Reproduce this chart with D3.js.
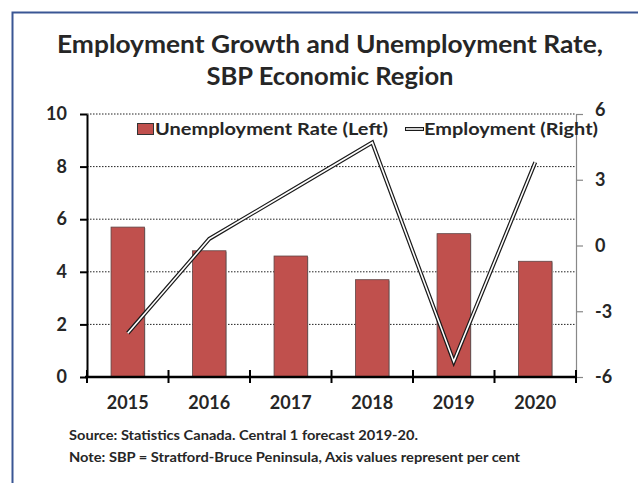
<!DOCTYPE html>
<html>
<head>
<meta charset="utf-8">
<script src="https://cdn.jsdelivr.net/npm/d3@7"></script>
<style>
  body { margin: 0; background: #fff; }
  text { font-family: Lato, "Open Sans", sans-serif; font-weight: bold; fill: #262626; }
</style>
</head>
<body>
<div id="chart"></div>
<script>
// chart data
var years = ["2015", "2016", "2017", "2018", "2019", "2020"];
var unemployment = [5.7, 4.8, 4.6, 3.7, 5.45, 4.4];   // left axis, per cent
var employment = [-4.0, 0.3, 2.5, 4.7, -5.3, 3.8];    // right axis, per cent
var leftTicks = [0, 2, 4, 6, 8, 10];
var rightTicks = [-6, -3, 0, 3, 6];
var titleLines = ["Employment Growth and Unemployment Rate,", "SBP Economic Region"];
var notes = ["Source:  Statistics Canada. Central 1 forecast 2019-20.",
             "Note: SBP = Stratford-Bruce Peninsula, Axis values represent per cent"];

var W = 638, H = 483;
var plot = { left: 87, right: 576, top: 114, bottom: 377 };

var svg = d3.select("#chart").append("svg")
    .attr("width", W)
    .attr("height", H);

// outer frame (runs off right and bottom edge like the original)
svg.append("rect")
    .attr("x", 12.5).attr("y", 12.5)
    .attr("width", 700).attr("height", 600)
    .attr("fill", "none")
    .attr("stroke", "#3a5694")
    .attr("stroke-width", 2);

// title - widths stretched a bit to match the original's font
var titleWidths = [546, 247];
svg.selectAll(".title")
    .data(titleLines)
    .enter().append("text")
      .attr("class", "title")
      .attr("x", 330)
      .attr("y", function(d, i) { return 53 + i * 32; })
      .attr("text-anchor", "middle")
      .attr("textLength", function(d, i) { return titleWidths[i]; })
      .attr("lengthAdjust", "spacingAndGlyphs")
      .style("font-size", "25px")
      .text(function(d) { return d; });

var x = d3.scaleBand().domain(years).range([plot.left, plot.right]).padding(0);
var yL = d3.scaleLinear().domain([0, 10]).range([plot.bottom, plot.top]);
var yR = d3.scaleLinear().domain([-6, 6]).range([plot.bottom, plot.top]);

// dotted gridlines
svg.append("g")
    .selectAll("line")
    .data(leftTicks.filter(function(d) { return d > 0; }))
    .enter().append("line")
      .attr("x1", plot.left).attr("x2", plot.right)
      .attr("y1", function(d) { return yL(d); })
      .attr("y2", function(d) { return yL(d); })
      .attr("stroke", "#222")
      .attr("stroke-width", 1)
      .attr("stroke-dasharray", "1.5,1.5");

// bars
var barW = x.bandwidth() * 0.41;
var bars = svg.append("g");
bars.selectAll(".shadow")
    .data(unemployment)
    .enter().append("rect")
      .attr("x", function(d, i) { return x(years[i]) + x.bandwidth() / 2 - barW / 2 + 1; })
      .attr("y", function(d) { return yL(d) + 1; })
      .attr("width", barW)
      .attr("height", function(d) { return yL(0) - yL(d) - 1; })
      .attr("fill", "#bdbdbd");
bars.selectAll(".bar")
    .data(unemployment)
    .enter().append("rect")
      .attr("x", function(d, i) { return x(years[i]) + x.bandwidth() / 2 - barW / 2; })
      .attr("y", function(d) { return yL(d); })
      .attr("width", barW)
      .attr("height", function(d) { return yL(0) - yL(d); })
      .attr("fill", "#c0504d")
      .attr("stroke", "#5e4444")
      .attr("stroke-width", 0.8);

// left axis
var leftAxis = svg.append("g")
    .attr("transform", "translate(" + plot.left + ",0)")
    .call(d3.axisLeft(yL).tickValues(leftTicks).tickSize(7).tickPadding(13).tickSizeOuter(0));
leftAxis.select(".domain").attr("stroke", "#000").attr("stroke-width", 2);
leftAxis.selectAll(".tick line").attr("stroke", "#000").attr("stroke-width", 2);
leftAxis.selectAll("text").style("font-size", "18px").style("font-family", null);

// right axis
var rightAxis = svg.append("g")
    .attr("transform", "translate(" + plot.right + ",0)")
    .call(d3.axisRight(yR).tickValues(rightTicks).tickSize(7).tickPadding(12).tickSizeOuter(0)
      .tickFormat(function(d) { return String(d); }));
rightAxis.select(".domain").attr("stroke", "#888").attr("stroke-width", 1.2);
rightAxis.selectAll(".tick line").attr("stroke", "#888").attr("stroke-width", 1.2);
rightAxis.selectAll("text").style("font-size", "18px").style("font-family", null);
rightAxis.selectAll(".tick").filter(function(d) { return d === 6; })
    .select("text").attr("dy", "0.1em");

// bottom axis: line plus ticks crossing it at category boundaries
svg.append("line")
    .attr("x1", plot.left - 2).attr("x2", plot.right + 1)
    .attr("y1", plot.bottom).attr("y2", plot.bottom)
    .attr("stroke", "#000").attr("stroke-width", 2.5);
var bounds = years.map(function(d) { return x(d); }).concat([plot.right]);
svg.append("g")
    .selectAll("line")
    .data(bounds)
    .enter().append("line")
      .attr("x1", function(d) { return d; }).attr("x2", function(d) { return d; })
      .attr("y1", plot.bottom - 7).attr("y2", plot.bottom + 6)
      .attr("stroke", "#000").attr("stroke-width", 2);
svg.append("g")
    .selectAll("text")
    .data(years)
    .enter().append("text")
      .attr("x", function(d) { return x(d) + x.bandwidth() / 2; })
      .attr("y", 409)
      .attr("text-anchor", "middle")
      .style("font-size", "18px")
      .text(function(d) { return d; });

// employment line (double line: black with white core)
var line = d3.line()
    .x(function(d, i) { return x(years[i]) + x.bandwidth() / 2; })
    .y(function(d) { return yR(d); });
svg.append("path")
    .datum(employment)
    .attr("d", line)
    .attr("fill", "none")
    .attr("stroke", "#1a1a1a")
    .attr("stroke-width", 4)
    .attr("stroke-linejoin", "miter");
svg.append("path")
    .datum(employment)
    .attr("d", line)
    .attr("fill", "none")
    .attr("stroke", "#fff")
    .attr("stroke-width", 1.6)
    .attr("stroke-linejoin", "miter");

// legend
var legend = svg.append("g");
legend.append("rect")
    .attr("x", 137.5).attr("y", 123.5)
    .attr("width", 16).attr("height", 11)
    .attr("fill", "#c0504d")
    .attr("stroke", "#333").attr("stroke-width", 1);
legend.append("text")
    .attr("x", 155).attr("y", 135)
    .style("font-size", "17px")
    .attr("textLength", 233)
    .attr("lengthAdjust", "spacingAndGlyphs")
    .text("Unemployment Rate (Left)");
legend.append("line")
    .attr("x1", 405).attr("x2", 424).attr("y1", 129).attr("y2", 129)
    .attr("stroke", "#1a1a1a").attr("stroke-width", 4);
legend.append("line")
    .attr("x1", 406).attr("x2", 423).attr("y1", 129).attr("y2", 129)
    .attr("stroke", "#fff").attr("stroke-width", 1.6);
legend.append("text")
    .attr("x", 424).attr("y", 135)
    .style("font-size", "17px")
    .attr("textLength", 174)
    .attr("lengthAdjust", "spacingAndGlyphs")
    .text("Employment (Right)");

// footnotes
var noteWidths = [349, 451];
svg.selectAll(".note")
    .data(notes)
    .enter().append("text")
      .attr("class", "note")
      .attr("x", 69)
      .attr("y", function(d, i) { return 440 + i * 22; })
      .attr("textLength", function(d, i) { return noteWidths[i]; })
      .attr("lengthAdjust", "spacingAndGlyphs")
      .style("font-size", "13px")
      .text(function(d) { return d; });
</script>
</body>
</html>
